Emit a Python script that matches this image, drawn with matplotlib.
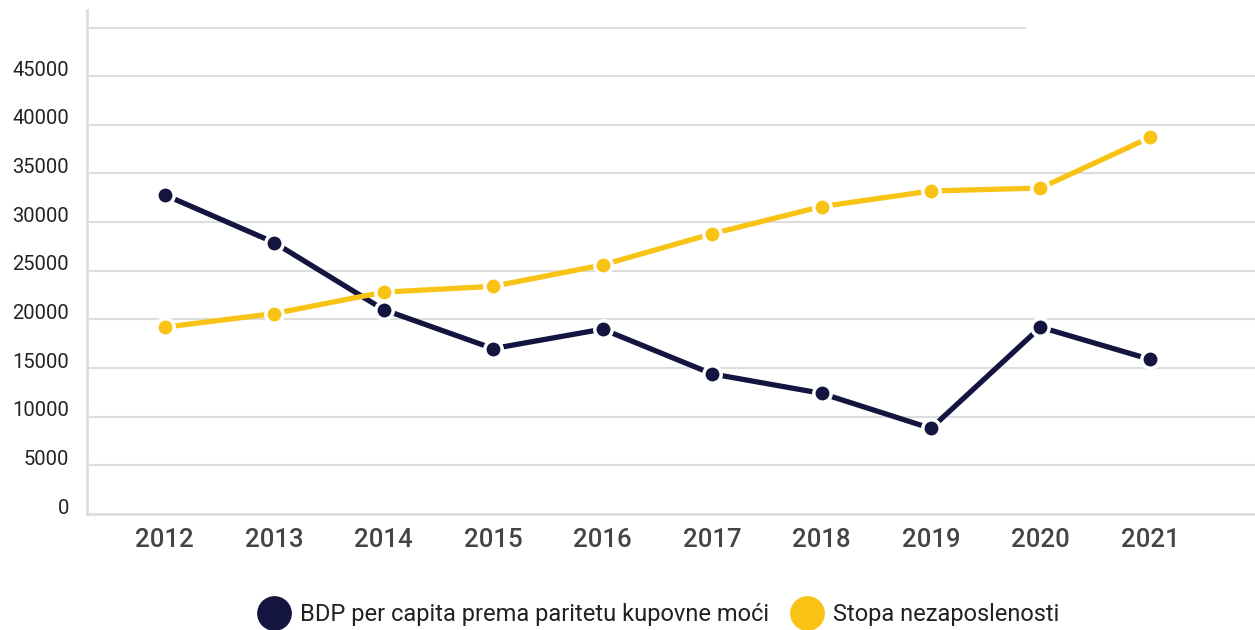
import matplotlib
matplotlib.use("Agg")
import matplotlib.pyplot as plt
from matplotlib.lines import Line2D
from matplotlib.transforms import ScaledTranslation

years = [2012, 2013, 2014, 2015, 2016, 2017, 2018, 2019, 2020, 2021]
bdp = [32800, 27900, 21000, 17000, 19000, 14400, 12400, 8800, 19200, 15900]
nezaposlenost = [19200, 20600, 22800, 23400, 25600, 28800, 31600, 33200, 33500, 38700]
y_ticks = [0, 5000, 10000, 15000, 20000, 25000, 30000, 35000, 40000, 45000]
series_names = ["BDP per capita prema paritetu kupovne moći", "Stopa nezaposlenosti"]

DARK = "#141440"
YELLOW = "#F9C316"
GRID = "#DDDDDD"

plt.rcParams['font.family'] = ['Roboto', 'DejaVu Sans']

W, H = 1255, 630
fig = plt.figure(figsize=(W / 100, H / 100), dpi=100)
left, right, bottom, top = 87, 1255, 514, 10
ax = fig.add_axes([left / W, 1 - bottom / H, (right - left) / W, (bottom - top) / H])

ax.set_ylim(0, 51800)
ax.set_xlim(2011.29, 2021.96)

for v in y_ticks[1:]:
    ax.axhline(v, color=GRID, lw=1.5, zorder=1)
ax.axhline(50000, xmin=0, xmax=(1025 - left) / (right - left), color=GRID, lw=1.5, zorder=1)

ax.plot(years, bdp, color=DARK, lw=3.8, marker="o", ms=12.5, mfc=DARK, mec="white",
        mew=2.5, zorder=3, solid_capstyle="butt")
ax.plot(years, nezaposlenost, color=YELLOW, lw=3.8, marker="o", ms=12.5, mfc=YELLOW,
        mec="white", mew=2.5, zorder=3, solid_capstyle="butt")

for s in ["top", "right"]:
    ax.spines[s].set_visible(False)
for s in ["left", "bottom"]:
    ax.spines[s].set_color(GRID)
    ax.spines[s].set_linewidth(2)

ax.set_yticks(y_ticks)
ax.set_yticklabels([str(v) for v in y_ticks])
ax.tick_params(axis="y", length=0, pad=13, labelsize=14.5, labelcolor="#222222")
ax.set_xticks(years)
ax.set_xticklabels([str(y) for y in years], fontweight="medium")
ax.tick_params(axis="x", length=0, pad=10, labelsize=18.5, labelcolor="#444444")

off = ScaledTranslation(0, 8 / 100, fig.dpi_scale_trans)
for lab in ax.get_yticklabels():
    lab.set_transform(lab.get_transform() + off)

handles = [
    Line2D([], [], ls="none", marker="o", ms=24, mfc=DARK, mec=DARK),
    Line2D([], [], ls="none", marker="o", ms=24, mfc=YELLOW, mec=YELLOW),
]
fig.legend(handles, series_names, loc="center", bbox_to_anchor=(0.522, 1 - 615 / H),
           ncol=2, frameon=False, fontsize=17, handletextpad=0.1, columnspacing=0.6,
           labelcolor="#222222")

fig.savefig("out.png", dpi=100, facecolor="white")
